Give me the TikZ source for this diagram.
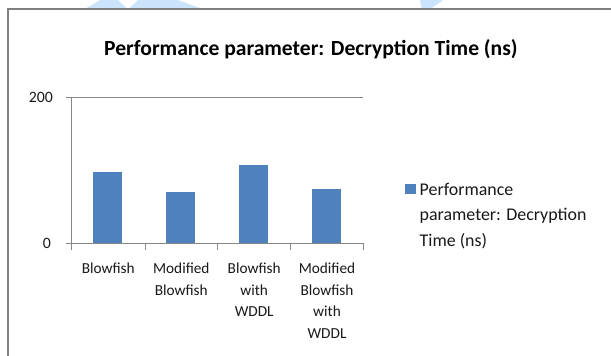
\documentclass[tikz,border=0pt]{standalone}
\usepackage{fontspec}
\setmainfont{Carlito}
\definecolor{barblue}{RGB}{79,129,189}
\definecolor{axisgray}{RGB}{134,134,134}
\definecolor{framegray}{RGB}{128,128,128}
\definecolor{wmblue}{RGB}{204,228,251}
\definecolor{txt}{RGB}{25,25,25}
\newcommand{\stackc}[1]{\begin{tabular}[t]{@{}c@{}}#1\end{tabular}}
\newcommand{\stackl}[1]{\begin{tabular}[t]{@{}l@{}}#1\end{tabular}}
\begin{document}
\begin{tikzpicture}[x=1pt,y=-1pt,
  axisline/.style={draw=axisgray,line width=1pt},
  barbox/.style={fill=barblue},
  catlabel/.style={anchor=base,inner sep=0pt,text=txt,font=\fontsize{15.3}{21.7}\selectfont},
  ticklabel/.style={anchor=east,inner sep=0pt,text=txt,font=\fontsize{15.8}{19}\selectfont},
  legendtext/.style={anchor=base west,inner sep=0pt,text=txt,font=\fontsize{17.9}{25.5}\selectfont},
  titletext/.style={anchor=base,inner sep=0pt,text=black,font=\bfseries\fontsize{21.6}{26}\selectfont}]
\useasboundingbox (0,0) rectangle (611,356);
\fill[white] (0,0) rectangle (611,356);
% watermark fragments
\fill[wmblue] (84,9.5) -- (100,0) -- (118,0) -- (128,9.5) -- (138,0) -- (178,0) -- (204,9.5) -- cycle;
\fill[wmblue] (420,0) -- (443,0) -- (430,9.5) -- (422,9.5) -- cycle;
% frame
\draw[framegray,line width=2.2pt] (7.8,356) -- (7.8,9.3) -- (611,9.3);
% title
\node[titletext] (title) at (311,55) {Performance parameter: Decryption Time (ns)};
% axes
\coordinate (o) at (71.7,243.3);
\coordinate (ytop) at (71.7,97.8);
\coordinate (gridL) at (65.5,97.8);
\coordinate (gridR) at (363.3,97.8);
\coordinate (axL) at (65.5,243.3);
\coordinate (axR) at (363.3,243.3);
\draw[axisline] (gridL) -- (gridR);
\draw[axisline] (ytop) -- (o);
\draw[axisline] (axL) -- (axR);
\foreach \x in {71.7,145,217.7,290.7,363.3}
  \draw[axisline] (\x,243.3) -- (\x,249.5);
% tick labels
\node[ticklabel] (t200) at (53,97.8) {200};
\node[ticklabel] (t0) at (51,243.3) {0};
% bars
\fill[barblue] (92.7,243.3) rectangle (122.3,171.7);
\fill[barblue] (165.7,243.3) rectangle (195.3,191.7);
\fill[barblue] (238.7,243.3) rectangle (268.3,165);
\fill[barblue] (311.7,243.3) rectangle (341.3,189);
% category labels
\node[catlabel] (c1) at (108.3,273.3) {\stackc{Blowfish}};
\node[catlabel] (c2) at (181.3,273.3) {\stackc{Modified\\Blowfish}};
\node[catlabel] (c3) at (254.2,273.3) {\stackc{Blowfish\\with\\WDDL}};
\node[catlabel] (c4) at (327,273.3) {\stackc{Modified\\Blowfish\\with\\WDDL}};
% legend
\fill[barblue] (405,183.5) rectangle (415.5,194);
\node[legendtext] (leg) at (419.5,195) {\stackl{Performance\\parameter: Decryption\\Time (ns)}};
\end{tikzpicture}
\end{document}
